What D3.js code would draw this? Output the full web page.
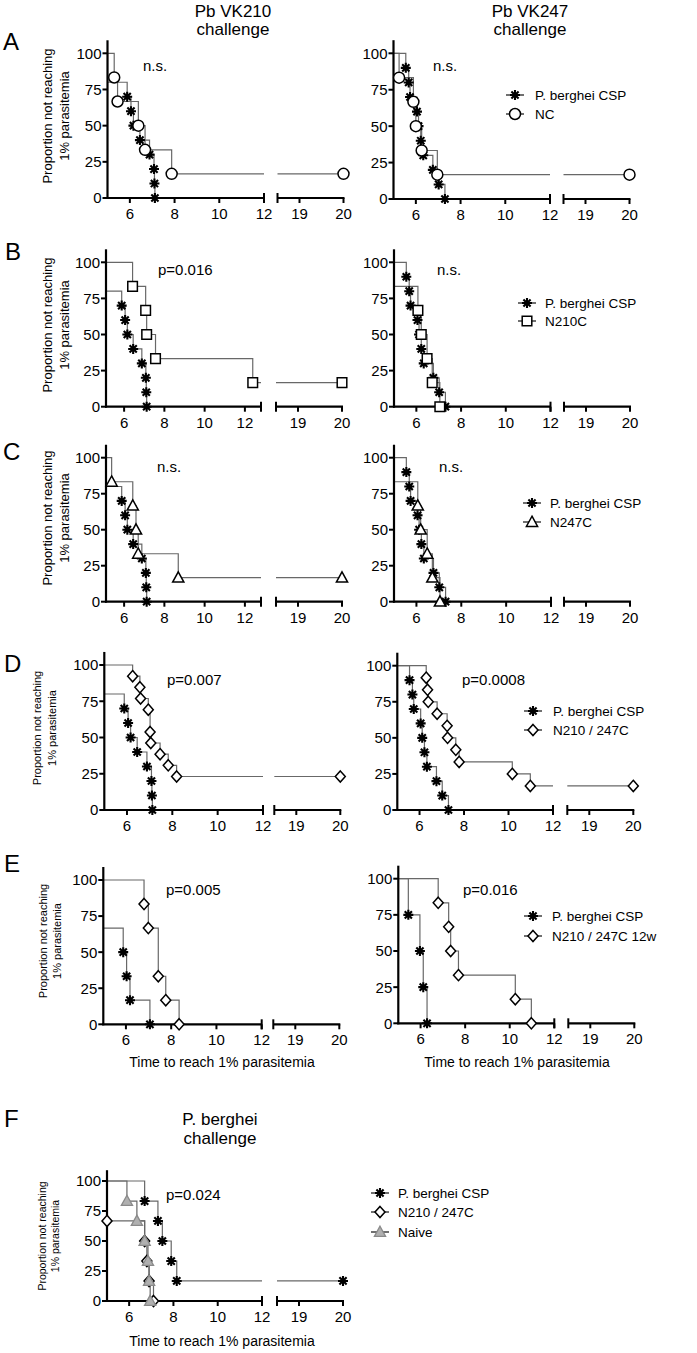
<!DOCTYPE html>
<html><head><meta charset="utf-8">
<script src="https://cdn.jsdelivr.net/npm/d3@7"></script>
<style>body{margin:0;background:#fff} svg text{font-family:Arial,"Liberation Sans",sans-serif;fill:#000}</style>
</head><body><svg id="c" width="697" height="1353"></svg>
<script>
// ---------------- data ----------------
const yTicks = [0, 25, 50, 75, 100];
const xTicksLow = [6, 8, 10, 12];
const xTicksHigh = [19, 20];
const censorDay = 20;

// P. berghei CSP groups (times, % not reaching 1% parasitemia)
const cspVK210T = [4.9, 5.88, 6.05, 6.16, 6.45, 6.88, 7.08, 7.1, 7.12];
const cspVK210V = [80, 70, 60, 50, 40, 30, 20, 10, 0];
const cspVK247T = [5.55, 5.68, 5.74, 6.05, 6.12, 6.22, 6.33, 6.76, 7.02, 7.3];
const cspVK247V = [90, 80, 70, 60, 50, 40, 30, 20, 10, 0];
// NC
const ncVK210T = [5.3, 5.45, 6.38, 6.68, 7.87];
const ncVK210V = [83.3, 66.7, 50, 33.3, 16.7];
const ncVK247T = [5.25, 5.89, 6.0, 6.26, 6.96];
const ncVK247V = [83.3, 66.7, 50, 33.3, 16.7];
// N210C
const n210VK210T = [6.42, 7.07, 7.12, 7.56, 12.39];
const n210VK210V = [83.3, 66.7, 50, 33.3, 16.7];
const n210VK247T = [4.9, 6.07, 6.22, 6.48, 6.71, 7.05];
const n210VK247V = [83.3, 66.7, 50, 33.3, 16.7, 0];
// N247C
const n247VK210T = [5.38, 6.43, 6.59, 6.7, 8.69];
const n247VK210V = [83.3, 66.7, 50, 33.3, 16.7];
const n247VK247T = [4.9, 6.06, 6.19, 6.48, 6.71, 7.05];
const n247VK247V = [83.3, 66.7, 50, 33.3, 16.7, 0];
// N210/247C
const dblVK210T = [6.25, 6.57, 6.6, 6.94, 7.02, 7.05, 7.46, 7.82, 8.19];
const dblVK210V = [92.3, 84.6, 76.9, 69.2, 53.8, 46.2, 38.5, 30.8, 23.1];
const dblVK247T = [6.3, 6.36, 6.39, 6.79, 7.24, 7.26, 7.63, 7.78, 10.17, 10.98];
const dblVK247V = [91.7, 83.3, 75, 66.7, 58.3, 50, 41.7, 33.3, 25, 16.7];
// 12 weeks
const csp12VK210T = [4.9, 5.88, 6.03, 6.18, 7.06];
const csp12VK210V = [66.7, 50, 33.3, 16.7, 0];
const dbl12VK210T = [6.8, 6.99, 7.43, 7.76, 8.35];
const dbl12VK210V = [83.3, 66.7, 33.3, 16.7, 0];
const csp12VK247T = [5.45, 5.97, 6.12, 6.29];
const csp12VK247V = [75, 50, 25, 0];
const dbl12VK247T = [6.79, 7.26, 7.35, 7.7, 10.25, 10.97];
const dbl12VK247V = [83.3, 66.7, 50, 33.3, 16.7, 0];
// P. berghei challenge
const cspPbT = [6.7, 7.3, 7.5, 7.9, 8.15];
const cspPbV = [83.3, 66.7, 50, 33.3, 16.7];
const dblPbT = [5.0, 6.7, 6.8, 6.9, 7.1];
const dblPbV = [66.7, 50, 33.3, 16.7, 0];
const naivePbT = [5.9, 6.35, 6.7, 6.85, 6.9, 6.95];
const naivePbV = [83.3, 66.7, 50, 33.3, 16.7, 0];

const pValues = ["n.s.", "n.s.", "p=0.016", "n.s.", "n.s.", "n.s.", "p=0.007", "p=0.0008", "p=0.005", "p=0.016", "p=0.024"];
const seriesNames = {csp: "P. berghei CSP", nc: "NC", n210: "N210C", n247: "N247C", dbl: "N210 / 247C", dbl12: "N210 / 247C 12w", naive: "Naive"};

// ---------------- drawing ----------------
const svg = d3.select("#c");
const defs = svg.append("defs");
const seg2Domain = [18.5, 20];
const seg2Range = [170, 236];
const lineColor = "#686868";

function symbolPath(sym) {
  if (sym === "ast") return "M-5,0L5,0M0,-5L0,5M-3.6,-3.6L3.6,3.6M-3.6,3.6L3.6,-3.6";
  if (sym === "circle") return d3.symbol(d3.symbolCircle, 95)();
  if (sym === "square") return "M-4.8,-4.8H4.8V4.8H-4.8Z";
  if (sym === "triangle" || sym === "tgrey") return "M0,-5.8L5.6,4.4H-5.6Z";
  if (sym === "diamond") return "M0,-5.6L5,0L0,5.6L-5,0Z";
}
function drawSymbol(g, sym, x, y) {
  const p = g.append("path").attr("d", symbolPath(sym)).attr("transform", `translate(${x},${y})`);
  if (sym === "ast") p.attr("fill", "none").attr("stroke", "#000").attr("stroke-width", 2.1);
  else if (sym === "tgrey") p.attr("fill", "#b0b0b0").attr("stroke", "#8a8a8a").attr("stroke-width", 1.3);
  else p.attr("fill", "#fff").attr("stroke", "#000").attr("stroke-width", 1.5);
}

function stepPoints(c, xmin) {
  const pts = [[xmin, 100]];
  let prev = 100;
  c.t.forEach((t, i) => {
    const tt = Math.max(t, xmin);
    pts.push([tt, prev]); pts.push([tt, c.v[i]]);
    prev = c.v[i];
  });
  if (c.censor) pts.push([c.censor, prev]);
  return pts;
}

function drawPanel(cfg, idx) {
  const g = svg.append("g").attr("transform", `translate(${cfg.ox},0)`);
  const y = d3.scaleLinear().domain([0, 100]).range([cfg.bottom, cfg.top]);
  const x1 = d3.scaleLinear().domain(cfg.d1).range([0, cfg.w1]);
  const x2 = d3.scaleLinear().domain(seg2Domain).range(seg2Range);
  const cid = "clip" + idx;
  defs.append("clipPath").attr("id", cid + "a").append("rect")
    .attr("x", 0).attr("y", cfg.top - 30).attr("width", cfg.w1).attr("height", cfg.bottom - cfg.top + 60);
  defs.append("clipPath").attr("id", cid + "b").append("rect")
    .attr("x", seg2Range[0]).attr("y", cfg.top - 30).attr("width", seg2Range[1] - seg2Range[0]).attr("height", cfg.bottom - cfg.top + 60);

  // step lines
  cfg.curves.forEach(c => {
    const pts = stepPoints(c, cfg.d1[0]);
    [[x1, "a"], [x2, "b"]].forEach(([xs, s]) => {
      g.append("path")
        .attr("d", d3.line().x(d => xs(d[0])).y(d => y(d[1]))(pts))
        .attr("fill", "none").attr("stroke", lineColor).attr("stroke-width", 1.2)
        .attr("clip-path", `url(#${cid}${s})`);
    });
  });

  // axes
  const ax = g.append("g");
  ax.append("line").attr("x1", 0).attr("x2", 0).attr("y1", cfg.bottom + 1).attr("y2", y(109))
    .attr("stroke", "#000").attr("stroke-width", 2.2);
  yTicks.forEach(v => {
    ax.append("line").attr("x1", -5).attr("x2", 0).attr("y1", y(v)).attr("y2", y(v)).attr("stroke", "#000").attr("stroke-width", 2);
    ax.append("text").attr("x", -6).attr("y", y(v)).attr("dy", "0.36em").attr("text-anchor", "end")
      .attr("font-size", 15).text(v);
  });
  ax.append("line").attr("x1", -1).attr("x2", cfg.w1).attr("y1", cfg.bottom).attr("y2", cfg.bottom).attr("stroke", "#000").attr("stroke-width", 2.2);
  ax.append("line").attr("x1", cfg.w1).attr("x2", cfg.w1).attr("y1", cfg.bottom - 5).attr("y2", cfg.bottom + 5).attr("stroke", "#000").attr("stroke-width", 2);
  xTicksLow.forEach(t => {
    ax.append("line").attr("x1", x1(t)).attr("x2", x1(t)).attr("y1", cfg.bottom).attr("y2", cfg.bottom + 5).attr("stroke", "#000").attr("stroke-width", 2);
    ax.append("text").attr("x", x1(t)).attr("y", cfg.bottom + 21).attr("text-anchor", "middle").attr("font-size", 15).text(t);
  });
  ax.append("line").attr("x1", seg2Range[0]).attr("x2", seg2Range[1] + 1).attr("y1", cfg.bottom).attr("y2", cfg.bottom).attr("stroke", "#000").attr("stroke-width", 2.2);
  ax.append("line").attr("x1", seg2Range[0]).attr("x2", seg2Range[0]).attr("y1", cfg.bottom - 5).attr("y2", cfg.bottom + 5).attr("stroke", "#000").attr("stroke-width", 2);
  xTicksHigh.forEach(t => {
    ax.append("line").attr("x1", x2(t)).attr("x2", x2(t)).attr("y1", cfg.bottom).attr("y2", cfg.bottom + 5).attr("stroke", "#000").attr("stroke-width", 2);
    ax.append("text").attr("x", x2(t)).attr("y", cfg.bottom + 21).attr("text-anchor", "middle").attr("font-size", 15).text(t);
  });

  // markers
  cfg.curves.forEach(c => {
    const ev = c.t.map((t, i) => [t, c.v[i]]);
    if (c.censor) ev.push([c.censor, c.v[c.v.length - 1]]);
    ev.forEach(([t, v]) => {
      let px = null;
      if (t >= cfg.d1[0] && t <= cfg.d1[1]) px = x1(t);
      else if (t >= seg2Domain[0] && t <= seg2Domain[1]) px = x2(t);
      if (px !== null) drawSymbol(g, c.sym, px, y(v));
    });
  });

  // y title
  if (cfg.yt) {
    const yt = cfg.yt;
    [["Proportion not reaching", yt.l1], ["1% parasitemia", yt.l2]].forEach(([s, bx]) => {
      svg.append("text").attr("transform", `translate(${bx},${yt.cy}) rotate(-90)`)
        .attr("text-anchor", "middle").attr("font-size", yt.fs).text(s);
    });
  }
  // stat text
  svg.append("text").attr("x", cfg.stat[0]).attr("y", cfg.stat[1]).attr("font-size", 15).text(pValues[idx]);
  // legend
  if (cfg.legend) {
    const L = cfg.legend;
    cfg.curves.forEach((c, i) => {
      const yy = L.y[i];
      svg.append("line").attr("x1", L.mx - 9).attr("x2", L.mx + 9).attr("y1", yy).attr("y2", yy).attr("stroke", "#222").attr("stroke-width", 1.3);
      drawSymbol(svg, c.sym, L.mx, yy);
      svg.append("text").attr("x", L.tx).attr("y", yy + 5).attr("font-size", 13.5).text(seriesNames[c.key]);
    });
  }
}

const ytA = {fs: 13, l1: 52, l2: 69};
const panels = [
  {ox: 107.5, top: 53.3, bottom: 198, d1: [5, 12], w1: 156.5, yt: {...ytA, cy: 116}, stat: [143, 71],
   curves: [{key: "csp", t: cspVK210T, v: cspVK210V, sym: "ast"}, {key: "nc", t: ncVK210T, v: ncVK210V, censor: censorDay, sym: "circle"}]},
  {ox: 393.5, top: 53.3, bottom: 199, d1: [5, 12], w1: 156.5, stat: [433, 71], legend: {mx: 515, tx: 535, y: [95, 114]},
   curves: [{key: "csp", t: cspVK247T, v: cspVK247V, sym: "ast"}, {key: "nc", t: ncVK247T, v: ncVK247V, censor: censorDay, sym: "circle"}]},
  {ox: 106, top: 262.3, bottom: 406.7, d1: [5.1, 12.8], w1: 155, yt: {...ytA, cy: 325}, stat: [158, 275],
   curves: [{key: "csp", t: cspVK210T, v: cspVK210V, sym: "ast"}, {key: "n210", t: n210VK210T, v: n210VK210V, censor: censorDay, sym: "square"}]},
  {ox: 394, top: 262.3, bottom: 406.7, d1: [5, 12], w1: 156.5, stat: [437, 275], legend: {mx: 527, tx: 545, y: [303, 321]},
   curves: [{key: "csp", t: cspVK247T, v: cspVK247V, sym: "ast"}, {key: "n210", t: n210VK247T, v: n210VK247V, sym: "square"}]},
  {ox: 106, top: 457.7, bottom: 601.7, d1: [5.1, 12.8], w1: 155, yt: {...ytA, cy: 518}, stat: [157, 472],
   curves: [{key: "csp", t: cspVK210T, v: cspVK210V, sym: "ast"}, {key: "n247", t: n247VK210T, v: n247VK210V, censor: censorDay, sym: "triangle"}]},
  {ox: 394, top: 457.7, bottom: 601.7, d1: [5, 12], w1: 157, stat: [439, 472], legend: {mx: 532, tx: 550, y: [503, 522]},
   curves: [{key: "csp", t: cspVK247T, v: cspVK247V, sym: "ast"}, {key: "n247", t: n247VK247T, v: n247VK247V, sym: "triangle"}]},
  {ox: 104.3, top: 665, bottom: 810, d1: [5, 12], w1: 158.7, yt: {fs: 11, l1: 41, l2: 56, cy: 728}, stat: [167, 685],
   curves: [{key: "csp", t: cspVK210T, v: cspVK210V, sym: "ast"}, {key: "dbl", t: dblVK210T, v: dblVK210V, censor: censorDay, sym: "diamond"}]},
  {ox: 397.3, top: 665.7, bottom: 810, d1: [5, 12], w1: 155.7, stat: [462, 685], legend: {mx: 533, tx: 553, y: [711, 730]},
   curves: [{key: "csp", t: cspVK247T, v: cspVK247V, sym: "ast"}, {key: "dbl", t: dblVK247T, v: dblVK247V, censor: censorDay, sym: "diamond"}]},
  {ox: 103.3, top: 880, bottom: 1024.3, d1: [5, 12], w1: 158.4, yt: {fs: 11, l1: 47, l2: 61, cy: 941}, stat: [166, 895],
   curves: [{key: "csp", t: csp12VK210T, v: csp12VK210V, sym: "ast"}, {key: "dbl12", t: dbl12VK210T, v: dbl12VK210V, sym: "diamond"}]},
  {ox: 398.3, top: 878.7, bottom: 1023.3, d1: [5, 12], w1: 156, stat: [463, 895], legend: {mx: 533, tx: 552, y: [916, 936]},
   curves: [{key: "csp", t: csp12VK247T, v: csp12VK247V, sym: "ast"}, {key: "dbl12", t: dbl12VK247T, v: dbl12VK247V, sym: "diamond"}]},
  {ox: 107, top: 1181, bottom: 1301, d1: [5, 12], w1: 155, yt: {fs: 10.5, l1: 46, l2: 59, cy: 1236}, stat: [166, 1200], legend: {mx: 380, tx: 398, y: [1193, 1212, 1232]},
   curves: [{key: "csp", t: cspPbT, v: cspPbV, censor: censorDay, sym: "ast"}, {key: "dbl", t: dblPbT, v: dblPbV, sym: "diamond"}, {key: "naive", t: naivePbT, v: naivePbV, sym: "tgrey"}]}
];
panels.forEach((p, i) => drawPanel(p, i));

// panel letters
[["A", 3, 50], ["B", 5, 260], ["C", 3, 460], ["D", 4, 672], ["E", 4, 872], ["F", 4, 1127]].forEach(([s, x, y]) => {
  svg.append("text").attr("x", x).attr("y", y).attr("font-size", 24).text(s);
});
// column titles
[["Pb VK210", 233], ["Pb VK247", 530]].forEach(([s, x]) => {
  svg.append("text").attr("x", x).attr("y", 17).attr("text-anchor", "middle").attr("font-size", 17).text(s);
  svg.append("text").attr("x", x).attr("y", 35).attr("text-anchor", "middle").attr("font-size", 17).text("challenge");
});
svg.append("text").attr("x", 220).attr("y", 1125).attr("text-anchor", "middle").attr("font-size", 17).text("P. berghei");
svg.append("text").attr("x", 220).attr("y", 1144).attr("text-anchor", "middle").attr("font-size", 17).text("challenge");
// x titles
[[222, 1067], [517, 1067], [222, 1346]].forEach(([x, y]) => {
  svg.append("text").attr("x", x).attr("y", y).attr("text-anchor", "middle").attr("font-size", 14).text("Time to reach 1% parasitemia");
});
</script></body></html>
